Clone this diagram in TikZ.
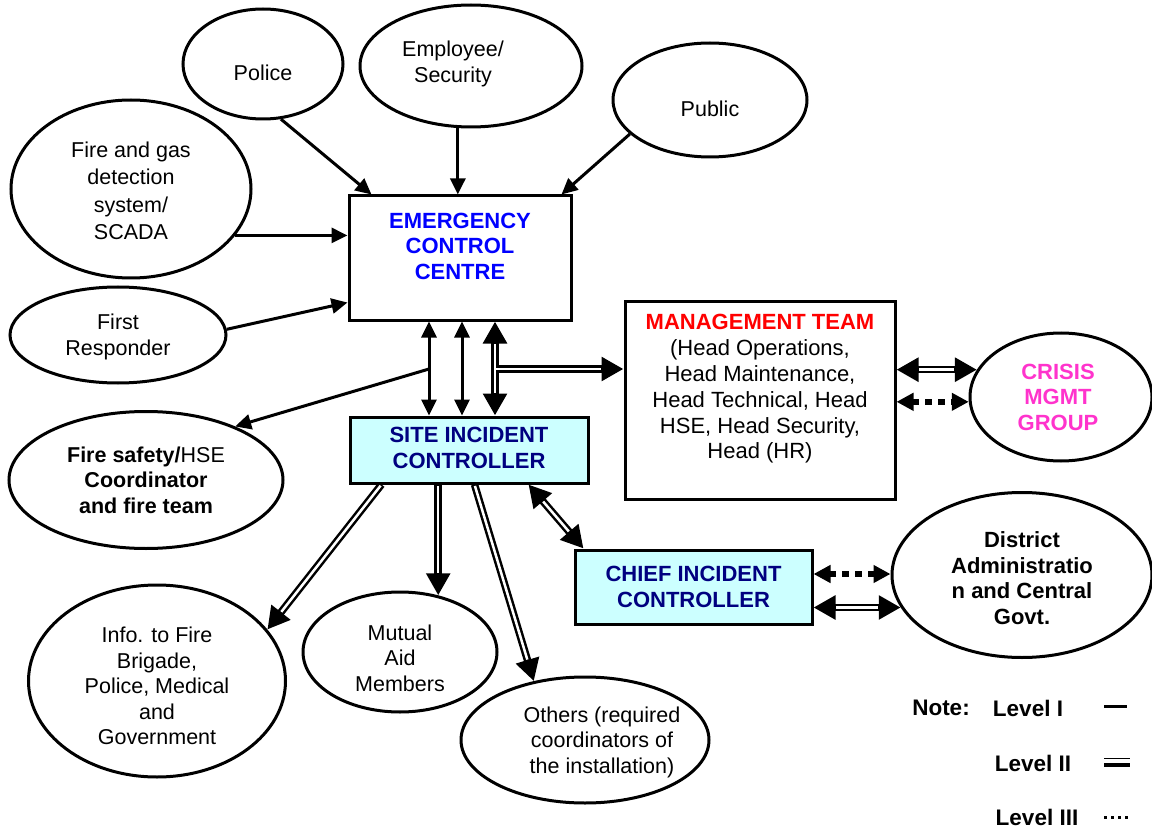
\documentclass[tikz,border=0pt]{standalone}
\usepackage{fontspec}
\setmainfont{Liberation Sans}
\usetikzlibrary{shapes.geometric,arrows.meta}
\definecolor{eccblue}{RGB}{0,0,255}
\definecolor{navyt}{RGB}{0,0,128}
\definecolor{cyanfill}{RGB}{204,255,255}
\definecolor{mgmtred}{RGB}{255,0,0}
\definecolor{crisisc}{RGB}{255,51,204}
\tikzset{
  ell/.style={draw, ellipse, line width=3pt, inner sep=0pt},
  boxn/.style={draw, rectangle, line width=3pt, inner sep=0pt},
  txt/.style={align=center, font=\fontsize{21.5}{25.5}\selectfont, inner sep=0pt},
  txtb/.style={align=center, font=\fontsize{22}{25.5}\selectfont\bfseries, inner sep=0pt},
  one/.style={line width=3pt, -{Triangle[length=16pt,width=15pt]}},
  oneboth/.style={line width=3pt, {Triangle[length=16pt,width=15pt]}-{Triangle[length=16pt,width=15pt]}},
  two/.style={line width=7.5pt, -{Triangle[length=22pt,width=23pt]},
     postaction={draw=white, line width=2.5pt, -, shorten >=22.5pt, shorten <=1.5pt}},
  twoj/.style={line width=7.5pt, -{Triangle[length=22pt,width=23pt]},
     postaction={draw=white, line width=2.5pt, -, shorten >=22.5pt}},
  twoboth/.style={line width=7.5pt, {Triangle[length=22pt,width=23pt]}-{Triangle[length=22pt,width=23pt]},
     postaction={draw=white, line width=2.5pt, -, shorten >=22.5pt, shorten <=22.5pt}},
  three/.style={line width=6pt, dash pattern=on 7pt off 6pt, {Triangle[length=17pt,width=17pt]}-{Triangle[length=17pt,width=17pt]}},
}
\begin{document}
\begin{tikzpicture}[x=1pt,y=-1pt]
\useasboundingbox (0,0) rectangle (1152,829);

% ellipses
\node[ell, minimum width=160pt, minimum height=110pt, label={[txt,yshift=-9pt]center:Police}] (police) at (263,64) {};
\node[ell, minimum width=222pt, minimum height=122pt, label={[txt,xshift=-18pt,yshift=2pt]center:{Employee/\\Security}}] (emp) at (471,66) {};
\node[ell, minimum width=194pt, minimum height=114pt, label={[txt,yshift=-9pt]center:Public}] (pub) at (710,100) {};
\node[ell, minimum width=240pt, minimum height=178pt, label={[txt,font=\fontsize{21.5}{27.5}\selectfont,yshift=-2pt]center:{Fire and gas\\detection\\system/\\SCADA}}] (fire) at (131,189) {};
\node[ell, minimum width=216pt, minimum height=96pt, label={[txt,yshift=-2pt]center:{First\\Responder}}] (fr) at (118,335) {};
\node[ell, minimum width=274pt, minimum height=137pt, label={[txt]center:{{\bfseries Fire safety/}HSE\\{\bfseries Coordinator}\\{\bfseries and fire team}}}] (fs) at (146,480) {};
\node[ell, minimum width=257pt, minimum height=192pt, label={[txt,yshift=-5pt]center:{Info. to Fire\\Brigade,\\Police, Medical\\and\\Government}}] (info) at (157,681) {};
\node[ell, minimum width=194pt, minimum height=120pt, label={[txt,yshift=-6pt]center:{Mutual\\Aid\\Members}}] (mut) at (400,652) {};
\node[ell, minimum width=248pt, minimum height=126pt, label={[txt,xshift=17pt,yshift=-2pt]center:{Others (required\\coordinators of\\the installation)}}] (oth) at (585,740) {};
\node[ell, minimum width=182pt, minimum height=128pt, label={[txtb,text=crisisc,xshift=-3pt]center:{CRISIS\\MGMT\\GROUP}}] (cr) at (1061,397) {};
\node[ell, minimum width=260pt, minimum height=165pt, label={[txtb,yshift=-3pt]center:{District\\Administratio\\n and Central\\Govt.}}] (dist) at (1022,575) {};

% boxes
\node[boxn, minimum width=222pt, minimum height=124pt, label={[txtb,text=eccblue,yshift=12pt]center:{EMERGENCY\\CONTROL\\CENTRE}}] (ecc) at (460,258) {};
\node[boxn, fill=cyanfill, minimum width=238pt, minimum height=66pt, label={[txtb,text=navyt,yshift=2pt]center:{SITE INCIDENT\\CONTROLLER}}] (sic) at (469,450) {};
\node[boxn, minimum width=270pt, minimum height=197pt, label={[txt,font=\fontsize{22}{25.8}\selectfont,yshift=11.5pt]center:{\textcolor{mgmtred}{\bfseries MANAGEMENT TEAM}\\(Head Operations,\\Head Maintenance,\\Head Technical, Head\\HSE, Head Security,\\Head (HR)}}] (mgmt) at (760,400.5) {};
\node[boxn, fill=cyanfill, minimum width=237pt, minimum height=74pt, label={[txtb,text=navyt]center:{CHIEF INCIDENT\\CONTROLLER}}] (cic) at (693.5,587) {};

% junction coordinates
\coordinate (v1) at (429,369);
\coordinate (v2) at (462,369);
\coordinate (v3) at (495,369);

% Level I
\draw[one] (police.-72) -- ([xshift=24pt]ecc.north west);
\draw[one] (emp.-102) -- (emp.-102 |- ecc.north);
\draw[one] (pub.-157.6) -- ([xshift=-11pt]ecc.north east);
\draw[one] (fire.-24) -- (fire.-24 -| ecc.west);
\draw[one] (fr.3) -- ([yshift=19pt]ecc.south west);
\draw[oneboth] (ecc.south -| v1) -- (sic.north -| v1);
\draw[oneboth] (ecc.south -| v2) -- (sic.north -| v2);
\draw[one] (v1) -- (fs.31);

% Level II
\draw[twoboth] (ecc.south -| v3) -- (sic.north -| v3);
\draw[twoj] ([xshift=1pt]v3) -- (v3 -| mgmt.west);
\draw[twoboth] (mgmt.east |- cr.162) -- (cr.162);
\draw[two] ([xshift=33pt]sic.south west) -- (info.25);
\draw[two] (sic.south -| mut.56) -- (mut.56);
\draw[two] ([xshift=-115pt]sic.south east) -- (oth.131);
\draw[twoboth] ([xshift=-61pt]sic.south east) -- ([xshift=10pt]cic.north west);
\draw[twoboth] (cic.east |- dist.-165) -- (dist.-165);

% Level III
\draw[three] (mgmt.east |- cr.183) -- (cr.183);
\draw[three] ([yshift=13pt]cic.east) -- ([yshift=13pt]cic.east -| dist.west);

% legend
\node[txtb, font=\fontsize{22.5}{26}\selectfont\bfseries] (note) at (941,708) {Note:};
\node[txtb, font=\fontsize{22.5}{26}\selectfont\bfseries] (l1) at (1028,708) {Level I};
\node[txtb, font=\fontsize{22.5}{26}\selectfont\bfseries] (l2) at (1033,763) {Level II};
\node[txtb, font=\fontsize{22.5}{26}\selectfont\bfseries] (l3) at (1037,817) {Level III};
\draw[line width=3pt] (1104,706) -- (1127,706);
\draw[line width=1.8pt] (1104,758.5) -- (1130,758.5);
\draw[line width=4pt] (1104,764.5) -- (1130,764.5);
\draw[line width=3pt, dash pattern=on 3pt off 4pt] (1104,817) -- (1131,817);
\end{tikzpicture}
\end{document}
